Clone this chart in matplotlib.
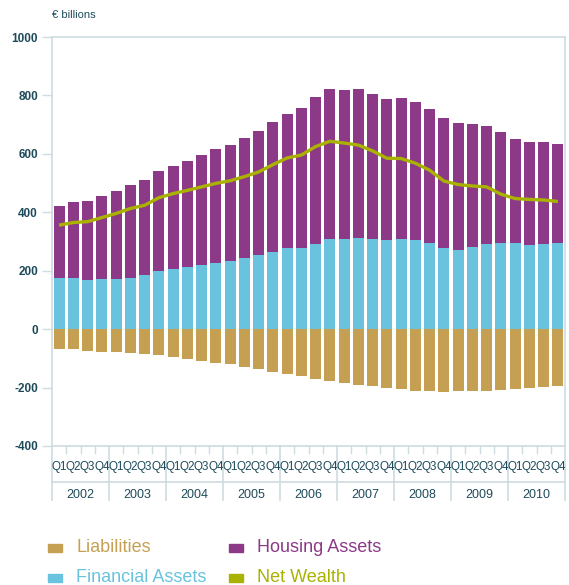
import matplotlib
matplotlib.use("Agg")
import matplotlib.pyplot as plt
import matplotlib.transforms as mtransforms
from matplotlib.patches import Rectangle
from matplotlib.lines import Line2D
import numpy as np

plt.rcParams['font.family'] = ['Liberation Sans', 'DejaVu Sans']

years = ['2002', '2003', '2004', '2005', '2006', '2007', '2008', '2009', '2010']
quarters = ['Q1', 'Q2', 'Q3', 'Q4']

liabilities = [-68, -68, -75, -79, -79, -82, -86, -89, -96, -103, -110, -116,
               -120, -130, -137, -147, -154, -161, -171, -178, -185, -192, -195, -202,
               -205, -212, -212, -216, -212, -212, -212, -209, -205, -202, -198, -195]
financial_assets = [174, 174, 168, 171, 171, 174, 185, 198, 205, 212, 219, 226,
                    233, 243, 253, 263, 277, 277, 291, 308, 308, 311, 308, 304,
                    308, 304, 294, 277, 270, 280, 291, 294, 294, 287, 291, 294]
total_assets = [421, 434, 438, 455, 472, 492, 510, 540, 557, 575, 595, 616,
                629, 653, 677, 708, 735, 756, 793, 821, 817, 821, 804, 787,
                790, 776, 752, 722, 705, 701, 694, 674, 650, 640, 640, 633]
housing_assets = [t - f for t, f in zip(total_assets, financial_assets)]
net_wealth = [356, 365, 368, 382, 396, 413, 424, 450, 464, 475, 487, 499,
              508, 522, 538, 563, 586, 596, 625, 643, 637, 630, 610, 585,
              584, 568, 544, 507, 495, 490, 487, 462, 447, 444, 442, 437]

c_liab = '#c6a052'
c_fin = '#69c3de'
c_house = '#8c3a88'
c_net = '#a9b200'
c_text = '#1e4b5b'
c_axis = '#cddcdf'

W, H = 569, 585
fig = plt.figure(figsize=(W / 100, H / 100), dpi=100)
L, R, T, B = 52, 565, 37, 446
ax = fig.add_axes([L / W, 1 - B / H, (R - L) / W, (B - T) / H])

n = len(liabilities)
x = np.arange(n)
bw = 0.77
ax.bar(x, liabilities, width=bw, color=c_liab, zorder=2)
ax.bar(x, financial_assets, width=bw, color=c_fin, zorder=2)
ax.bar(x, housing_assets, width=bw, bottom=financial_assets, color=c_house, zorder=2)
ax.plot(x, net_wealth, color=c_net, lw=2.4, zorder=3, solid_capstyle='butt',
        solid_joinstyle='round')

ax.set_xlim(-0.5, n - 0.5)
ax.set_ylim(-400, 1000)
ax.set_yticks(range(-400, 1001, 200))
ax.set_yticklabels([str(v) for v in range(-400, 1001, 200)], fontsize=8.5,
                   color=c_text, fontweight='bold')
ax.tick_params(axis='y', length=7, width=1, color=c_axis, pad=3)
ax.set_xticks([])
for s in ax.spines.values():
    s.set_color(c_axis)
    s.set_linewidth(1.2)

# category axis below
trans = mtransforms.blended_transform_factory(ax.transData, fig.transFigure)
def fy(py):
    return 1 - py / H

y_axis = fy(446)
for i in range(n + 1):
    xb = i - 0.5
    if i % 4 == 0:
        fig.add_artist(Line2D([xb, xb], [y_axis, fy(500)], transform=trans,
                              color=c_axis, lw=1.2))
    else:
        fig.add_artist(Line2D([xb, xb], [y_axis, fy(453)], transform=trans,
                              color=c_axis, lw=1.0))
fig.add_artist(Line2D([-0.5, n - 0.5], [fy(482), fy(482)], transform=trans,
                      color=c_axis, lw=1.2))

for i in range(n):
    fig.text(i, fy(467), quarters[i % 4], transform=trans, ha='center',
             va='center', fontsize=8.4, color=c_text)
for k, yr in enumerate(years):
    fig.text(4 * k + 1.5, fy(495), yr, transform=trans, ha='center',
             va='center', fontsize=9, color=c_text)

fig.text(52 / W, fy(15), '€ billions', ha='left', va='center', fontsize=8,
         color=c_text)

# legend
legend_items = [('Liabilities', c_liab, 48, 548),
                ('Financial Assets', c_fin, 48, 578),
                ('Housing Assets', c_house, 229, 548),
                ('Net Wealth', c_net, 229, 578)]
for label, col, px, py in legend_items:
    fig.add_artist(Rectangle((px / W, fy(py + 4)), 14 / W, 8 / H,
                             transform=fig.transFigure, color=col))
    fig.text((px + 28) / W, fy(py), label, ha='left', va='center',
             fontsize=13, color=col)

fig.savefig('out.png', dpi=100)
